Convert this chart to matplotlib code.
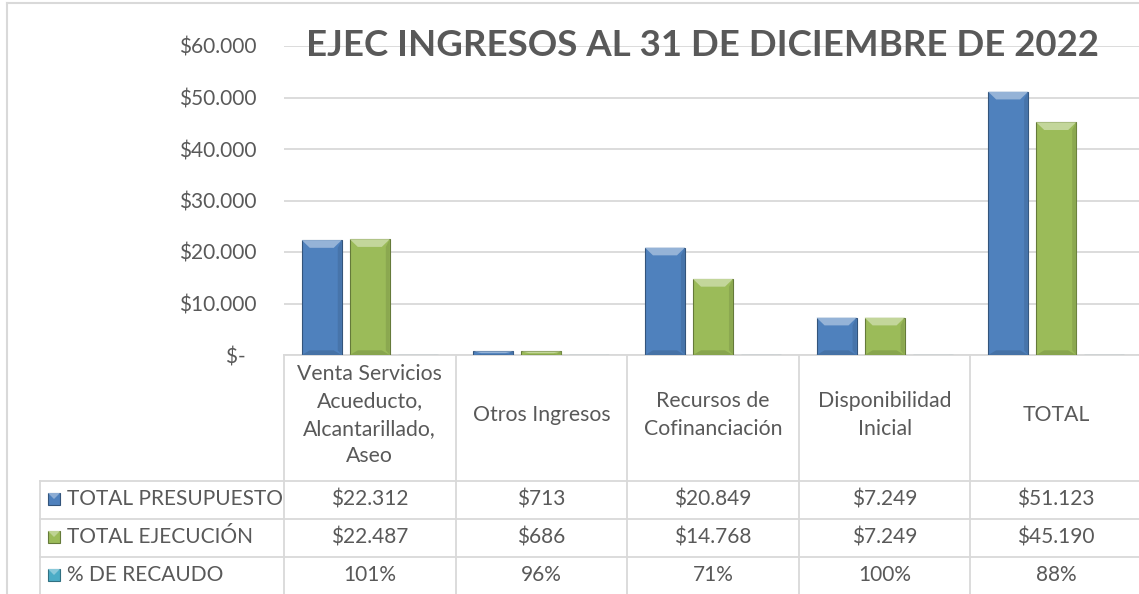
import matplotlib.pyplot as plt
import matplotlib.transforms as mtransforms
from matplotlib.colors import to_rgb
from matplotlib.patches import Polygon, Rectangle
from matplotlib.lines import Line2D
import numpy as np

plt.rcParams['font.family'] = ['Lato', 'DejaVu Sans']

categorias = ['Venta Servicios\nAcueducto,\nAlcantarillado,\nAseo', 'Otros Ingresos',
              'Recursos de\nCofinanciación', 'Disponibilidad\nInicial', 'TOTAL']
presupuesto = [22312, 713, 20849, 7249, 51123]
ejecucion = [22487, 686, 14768, 7249, 45190]
recaudo = [1.01, 0.96, 0.71, 1.00, 0.88]
series = ['TOTAL PRESUPUESTO', 'TOTAL EJECUCIÓN', '% DE RECAUDO']
colores = ['#4f81bd', '#9bbb59', '#4bacc6']
y_ticks = [0, 10000, 20000, 30000, 40000, 50000, 60000]

W, H = 1139, 594
gris_txt = '#595959'
gris_lin = '#d9d9d9'


def mezcla(c, otro, t):
    c = np.array(to_rgb(c))
    return tuple(c * (1 - t) + np.array(to_rgb(otro)) * t)


def fx(px):
    return px / W


def fy(py):
    return 1 - py / H


fig = plt.figure(figsize=(W / 100, H / 100), dpi=100)
ax = fig.add_axes([fx(284), fy(355), (1142 - 284) / W, (355 - 46) / H])

x = np.arange(len(categorias))
ancho = 0.233
paso = 0.28
for i, (vals, col) in enumerate(zip([presupuesto, ejecucion, recaudo], colores)):
    barras = ax.bar(x + (i - 1) * paso, vals, width=ancho, color=col,
                    edgecolor=mezcla(col, 'black', 0.35), linewidth=0.8, zorder=3)
    for p in barras:
        x0, w, h = p.get_x(), p.get_width(), p.get_height()
        dx = w * 0.2
        dy = min(1500, h * 0.5)
        ax.add_patch(Polygon([(x0, h), (x0 + w, h), (x0 + w - dx, h - dy), (x0 + dx, h - dy)],
                             closed=True, color=mezcla(col, 'white', 0.4), lw=0, zorder=4))
        ax.add_patch(Polygon([(x0, 0), (x0 + w, 0), (x0 + w - dx, dy * 0.6), (x0 + dx, dy * 0.6)],
                             closed=True, color=mezcla(col, 'black', 0.12), lw=0, zorder=4))
        ax.add_patch(Polygon([(x0 + w, 0), (x0 + w, h), (x0 + w - dx * 0.5, h - dy), (x0 + w - dx * 0.5, dy * 0.6)],
                             closed=True, color=mezcla(col, 'black', 0.1), lw=0, zorder=4))

ax.set_xlim(-0.5, len(categorias) - 0.5)
ax.set_ylim(0, 60000)
ax.set_yticks(y_ticks)
ax.set_yticklabels(['$-  '] + ['$' + f'{v:,}'.replace(',', '.') for v in y_ticks[1:]])
ax.tick_params(axis='y', length=0, pad=20, labelsize=15, labelcolor=gris_txt)
ax.set_xticks([])
ax.grid(axis='y', color=gris_lin, lw=1.3, zorder=0)
for s in ['top', 'right', 'left']:
    ax.spines[s].set_visible(False)
ax.spines['bottom'].set_color(gris_lin)
ax.spines['bottom'].set_linewidth(1.3)

fig.text(fx(702), fy(46), 'EJEC INGRESOS AL 31 DE DICIEMBRE DE 2022', ha='center', va='center',
         fontsize=26.4, fontweight='bold', color=gris_txt)

# tabla de datos
tr = mtransforms.blended_transform_factory(ax.transData, fig.transFigure)
filas_y = [481, 519, 557, 595]
for k in range(len(categorias) + 1):
    fig.add_artist(Line2D([k - 0.5, k - 0.5], [fy(355), fy(H)], transform=tr, color=gris_lin, lw=1.3))
fig.add_artist(Line2D([fx(40), fx(40)], [fy(481), fy(H)], transform=fig.transFigure, color=gris_lin, lw=1.3))
for yy in filas_y[:3]:
    fig.add_artist(Line2D([fx(40), 1], [fy(yy), fy(yy)], transform=fig.transFigure, color=gris_lin, lw=1.3))

for k, cat in enumerate(categorias):
    fig.text(k, fy(415), cat, transform=tr, ha='center', va='center', fontsize=15.3,
             color=gris_txt, linespacing=1.45)

filas = [
    ['$' + f'{v:,}'.replace(',', '.') for v in presupuesto],
    ['$' + f'{v:,}'.replace(',', '.') for v in ejecucion],
    [f'{round(r * 100)}%' for r in recaudo],
]
for j, (nombre, col, fila) in enumerate(zip(series, colores, filas)):
    yc = fy((filas_y[j] + filas_y[j + 1]) / 2 - 1)
    fig.add_artist(Rectangle((fx(48), yc - 6 / H), 12 / W, 12 / H, transform=fig.transFigure,
                             facecolor=col, edgecolor=mezcla(col, 'black', 0.35), lw=0.8))
    fig.add_artist(Polygon([(fx(48), yc + 6 / H), (fx(60), yc + 6 / H), (fx(54), yc)],
                           closed=True, transform=fig.transFigure,
                           color=mezcla(col, 'white', 0.35), lw=0))
    fig.text(fx(67), yc, nombre, ha='left', va='center', fontsize=15, color=gris_txt)
    for k, val in enumerate(fila):
        fig.text(k, yc, val, transform=tr, ha='center', va='center', fontsize=15, color=gris_txt)

# marco exterior
fig.add_artist(Line2D([fx(7), fx(7)], [fy(3), 0], transform=fig.transFigure, color=gris_lin, lw=1.5))
fig.add_artist(Line2D([fx(7), 1], [fy(3), fy(3)], transform=fig.transFigure, color=gris_lin, lw=1.5))

fig.savefig('out.png', dpi=100)
